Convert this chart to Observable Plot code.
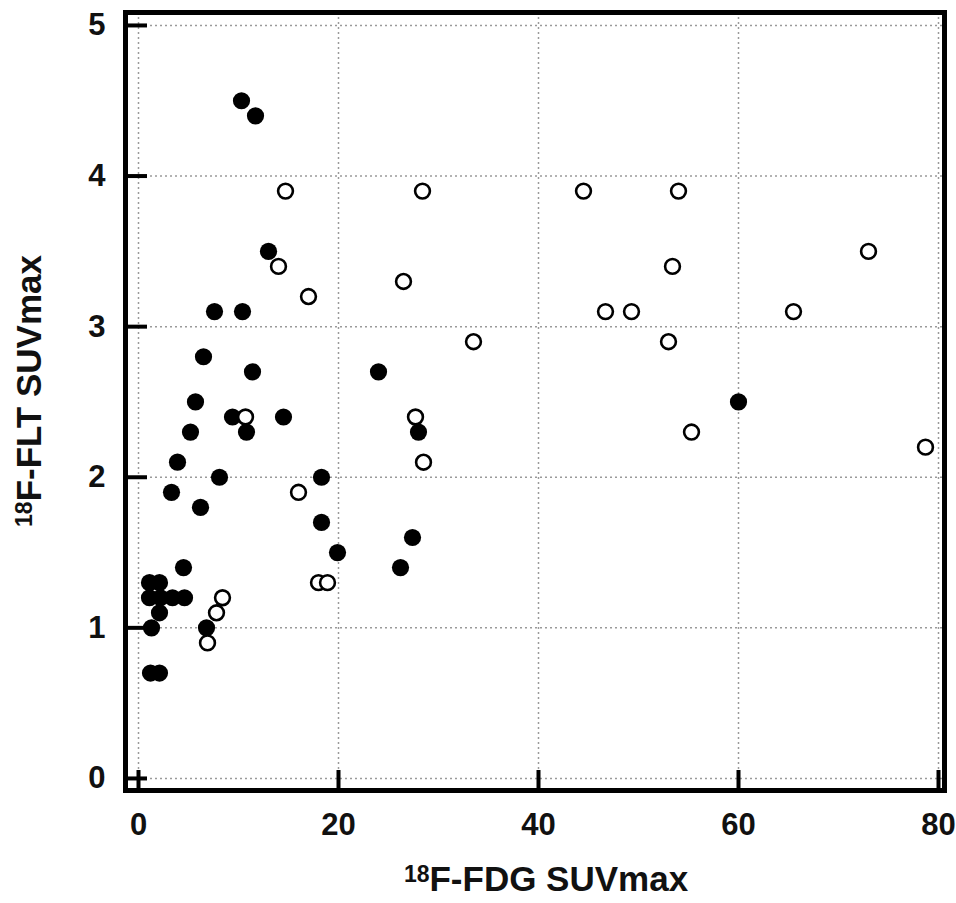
<!DOCTYPE html>
<html><head><meta charset="utf-8">
<script src="https://cdn.jsdelivr.net/npm/d3@7"></script>
<script src="https://cdn.jsdelivr.net/npm/@observablehq/plot@0.6"></script>
<style>body{margin:0;background:#fff}</style>
</head><body><div id="chart"></div>
<script>
// Filled circles (group 1)
const filledX = [10.3, 11.7, 13.0, 7.6, 10.4, 6.5, 11.4, 5.7, 9.4, 14.5, 10.8, 5.2, 3.9, 8.1, 3.3, 6.2,
  24.0, 28.0, 18.3, 18.3, 19.9, 27.4, 26.2, 60.0, 4.5,
  1.1, 2.1, 1.1, 2.2, 3.4, 4.6, 2.1, 1.3, 6.8, 1.2, 2.1];
const filledY = [4.5, 4.4, 3.5, 3.1, 3.1, 2.8, 2.7, 2.5, 2.4, 2.4, 2.3, 2.3, 2.1, 2.0, 1.9, 1.8,
  2.7, 2.3, 2.0, 1.7, 1.5, 1.6, 1.4, 2.5, 1.4,
  1.3, 1.3, 1.2, 1.2, 1.2, 1.2, 1.1, 1.0, 1.0, 0.7, 0.7];
// Open circles (group 2)
const openX = [14.7, 28.4, 44.5, 54.0, 14.0, 17.0, 26.5, 33.5, 46.7, 49.3, 53.4, 53.0, 65.5, 73.0, 55.3, 78.7,
  10.7, 27.7, 28.5, 16.0, 18.0, 18.9, 8.4, 7.8, 6.9];
const openY = [3.9, 3.9, 3.9, 3.9, 3.4, 3.2, 3.3, 2.9, 3.1, 3.1, 3.4, 2.9, 3.1, 3.5, 2.3, 2.2,
  2.4, 2.4, 2.1, 1.9, 1.3, 1.3, 1.2, 1.1, 0.9];
const xTicks = [0, 20, 40, 60, 80];
const yTicks = [0, 1, 2, 3, 4, 5];
const xTitleSup = "18", xTitleMain = "F-FDG SUVmax";
const yTitleSup = "18", yTitleMain = "F-FLT SUVmax";

const filled = filledX.map((x, i) => ({x, y: filledY[i]}));
const open = openX.map((x, i) => ({x, y: openY[i]}));

const W = 956, H = 903, mL = 125, mR = 12, mT = 12, mB = 113;
const plotW = W - mL - mR, plotH = H - mT - mB;
const font = "'Liberation Sans', Arial, Helvetica, sans-serif";
const gridStyle = {stroke: "#9a9a9a", strokeOpacity: 1, strokeDasharray: "2 3", strokeWidth: 1.5};

const svg = Plot.plot({
  width: W, height: H,
  marginLeft: mL, marginRight: mR, marginTop: mT, marginBottom: mB,
  style: {fontFamily: font, background: "#fff"},
  x: {domain: [-1.3, 80.6]},
  y: {domain: [-0.08, 5.086]},
  marks: [
    Plot.gridX(xTicks, gridStyle),
    Plot.gridY(yTicks, gridStyle),
    Plot.axisX(xTicks, {tickSize: 0, tickPadding: 22, fontSize: 31, fontWeight: "bold", fill: "#111", label: null, tickFormat: d => String(d)}),
    Plot.axisY(yTicks, {tickSize: 0, tickPadding: 20, fontSize: 31, fontWeight: "bold", fill: "#111", label: null, tickFormat: d => String(d)}),
    Plot.ruleX(xTicks, {x: d => d, insetTop: plotH - 20, stroke: "#000", strokeWidth: 4}),
    Plot.ruleY(yTicks, {y: d => d, insetRight: plotW - 22, stroke: "#000", strokeWidth: 4}),
    Plot.dot(filled, {x: "x", y: "y", r: 8.6, fill: "#000"}),
    Plot.dot(open, {x: "x", y: "y", r: 7.4, fill: "#fff", stroke: "#000", strokeWidth: 2.6}),
    Plot.frame({stroke: "#000", strokeWidth: 5})
  ]
});

const s = d3.select(svg);
const xt = s.append("text")
  .attr("x", 546).attr("y", 891)
  .attr("text-anchor", "middle")
  .attr("font-family", font).attr("font-weight", "bold").attr("fill", "#111");
xt.append("tspan").attr("font-size", 23).attr("dy", -9).text(xTitleSup);
xt.append("tspan").attr("font-size", 35).attr("dy", 9).text(xTitleMain);

const yt = s.append("text")
  .attr("transform", `translate(41,391) rotate(-90)`)
  .attr("text-anchor", "middle")
  .attr("font-family", font).attr("font-weight", "bold").attr("fill", "#111");
yt.append("tspan").attr("font-size", 23).attr("dy", -9).text(yTitleSup);
yt.append("tspan").attr("font-size", 35).attr("dy", 9).text(yTitleMain);

document.getElementById("chart").appendChild(svg);
</script>
</body></html>
